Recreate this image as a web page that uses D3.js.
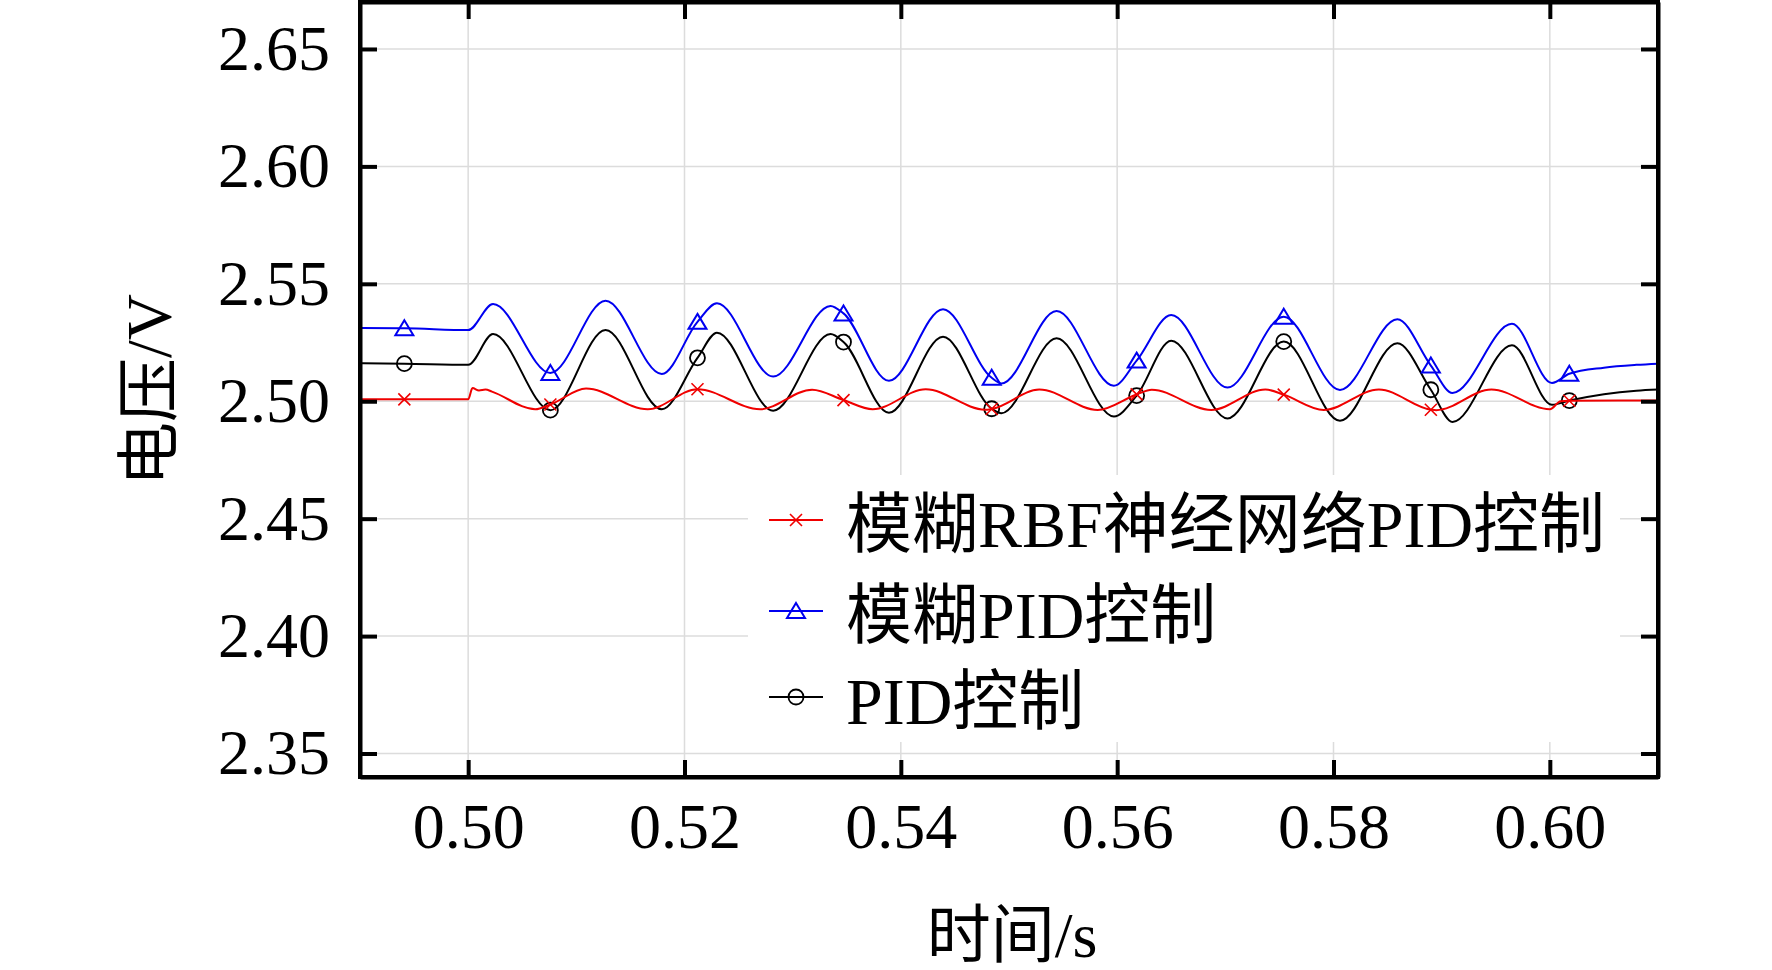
<!DOCTYPE html>
<html><head><meta charset="utf-8">
<script src="https://cdn.jsdelivr.net/npm/d3@7"></script>
<style>body{margin:0;background:#fff;} svg{display:block;}</style>
</head><body>
<svg id="chart" width="1772" height="970"></svg>
<script>
// ---- data ----
const xTicks = [0.50, 0.52, 0.54, 0.56, 0.58, 0.60];
const yTicks = [2.35, 2.40, 2.45, 2.50, 2.55, 2.60, 2.65];
const seriesNames = ["模糊RBF神经网络PID控制", "模糊PID控制", "PID控制"];

const timeRBF  = [0.4900, 0.5000, 0.5004, 0.5010, 0.5016, 0.5022, 0.5062, 0.5109, 0.5166, 0.5270, 0.5318, 0.5374, 0.5423, 0.5478, 0.5528, 0.5582, 0.5632, 0.5687, 0.5737, 0.5791, 0.5842, 0.5895, 0.5946, 0.6000, 0.6010, 0.6100];
const valueRBF = [2.5008, 2.5008, 2.5056, 2.5046, 2.5050, 2.5041, 2.4966, 2.5054, 2.4966, 2.4966, 2.5049, 2.4966, 2.5051, 2.4964, 2.5050, 2.4963, 2.5049, 2.4963, 2.5050, 2.4963, 2.5050, 2.4962, 2.5050, 2.4966, 2.5000, 2.5003];

const timeFuzzy  = [0.4900, 0.5000, 0.5023, 0.5127, 0.5179, 0.5230, 0.5282, 0.5335, 0.5389, 0.5439, 0.5493, 0.5544, 0.5597, 0.5650, 0.5702, 0.5806, 0.5859, 0.5910, 0.5965, 0.6002, 0.6050, 0.6080, 0.6100];
const valueFuzzy = [2.5312, 2.5303, 2.5414, 2.5428, 2.5116, 2.5417, 2.5105, 2.5406, 2.5087, 2.5392, 2.5076, 2.5384, 2.5066, 2.5367, 2.5058, 2.5048, 2.5349, 2.5035, 2.5330, 2.5078, 2.5143, 2.5155, 2.5160];

const timePID  = [0.4900, 0.5000, 0.5023, 0.5127, 0.5179, 0.5230, 0.5282, 0.5335, 0.5389, 0.5439, 0.5493, 0.5544, 0.5597, 0.5650, 0.5702, 0.5806, 0.5859, 0.5910, 0.5965, 0.6002, 0.6050, 0.6080, 0.6100];
const valuePID = [2.5162, 2.5155, 2.5286, 2.5303, 2.4966, 2.5292, 2.4960, 2.5286, 2.4951, 2.5275, 2.4949, 2.5268, 2.4935, 2.5258, 2.4927, 2.4917, 2.5247, 2.4912, 2.5238, 2.4985, 2.5030, 2.5045, 2.5050];

const markerTimes  = [0.4941, 0.5076, 0.5212, 0.5347, 0.5484, 0.5618, 0.5754, 0.5890, 0.6018];
const markerRBF    = [2.5008, 2.4986, 2.5051, 2.5005, 2.4967, 2.5029, 2.5028, 2.4964, 2.5002];
const markerFuzzy  = [2.5311, 2.5120, 2.5338, 2.5374, 2.5100, 2.5173, 2.5360, 2.5152, 2.5117];
const markerPID    = [2.5160, 2.4962, 2.5185, 2.5252, 2.4968, 2.5024, 2.5254, 2.5049, 2.5003];

// ---- layout ----
const FONT = "'Liberation Serif','Times New Roman','Noto Sans CJK SC',serif";
const m = {left: 360, right: 1658, top: 2, bottom: 777};
const x = d3.scaleLinear().domain([0.49, 0.61]).range([m.left, m.right]);
const y = d3.scaleLinear().domain([2.34, 2.67]).range([m.bottom, m.top]);

const svg = d3.select("#chart");
svg.append("rect").attr("width", 1772).attr("height", 970).attr("fill", "#fff");

svg.append("defs").append("clipPath").attr("id", "clip")
  .append("rect").attr("x", m.left).attr("y", m.top).attr("width", m.right - m.left).attr("height", m.bottom - m.top);

// grid
const grid = svg.append("g").attr("stroke", "#dcdcdc").attr("stroke-width", 1.5);
grid.selectAll("line.gx").data(xTicks).join("line")
  .attr("x1", d => x(d)).attr("x2", d => x(d)).attr("y1", m.top).attr("y2", m.bottom);
grid.selectAll("line.gy").data(yTicks).join("line")
  .attr("x1", m.left).attr("x2", m.right).attr("y1", d => y(d)).attr("y2", d => y(d));

// series
function merge(ts, vs, mv) {
  const pts = ts.map((t, i) => ({t, v: vs[i]}));
  markerTimes.forEach((t, i) => pts.push({t, v: mv[i]}));
  pts.sort((a, b) => a.t - b.t);
  return pts;
}
const series = [
  {name: seriesNames[0], color: "#f00000", data: merge(timeRBF, valueRBF, markerRBF), marks: markerRBF, sym: "x"},
  {name: seriesNames[1], color: "#0000f0", data: merge(timeFuzzy, valueFuzzy, markerFuzzy), marks: markerFuzzy, sym: "tri"},
  {name: seriesNames[2], color: "#000000", data: merge(timePID, valuePID, markerPID), marks: markerPID, sym: "circ"}
];

const line = d3.line().x(d => x(d.t)).y(d => y(d.v)).curve(d3.curveMonotoneX);
const plot = svg.append("g").attr("clip-path", "url(#clip)");

function drawMarker(g, sym, color, cx, cy) {
  if (sym === "x") {
    g.append("path").attr("d", `M${cx-6},${cy-6}L${cx+6},${cy+6}M${cx-6},${cy+6}L${cx+6},${cy-6}`)
      .attr("stroke", color).attr("stroke-width", 1.6).attr("fill", "none");
  } else if (sym === "tri") {
    g.append("path").attr("d", `M${cx},${cy-8}L${cx+9},${cy+7}L${cx-9},${cy+7}Z`)
      .attr("stroke", color).attr("stroke-width", 2).attr("fill", "none");
  } else {
    g.append("circle").attr("cx", cx).attr("cy", cy).attr("r", 7.5)
      .attr("stroke", color).attr("stroke-width", 1.8).attr("fill", "none");
  }
}

// draw order: black, blue, red on top
[series[2], series[1], series[0]].forEach(s => {
  plot.append("path").datum(s.data).attr("d", line)
    .attr("fill", "none").attr("stroke", s.color).attr("stroke-width", 2);
  const mg = plot.append("g");
  markerTimes.forEach((t, i) => drawMarker(mg, s.sym, s.color, x(t), y(s.marks[i])));
});

// axes
function styleAxis(g) {
  g.select(".domain").attr("stroke-width", 4);
  g.selectAll(".tick line").attr("stroke-width", 4);
  g.selectAll(".tick text").attr("font-size", 64).attr("font-family", FONT).attr("fill", "#000");
}
const fmt = d3.format(".2f");
svg.append("g").attr("transform", `translate(0,${m.bottom})`)
  .call(d3.axisBottom(x).tickValues(xTicks).tickFormat(fmt).tickSizeInner(-17).tickSizeOuter(0).tickPadding(26))
  .call(styleAxis);
svg.append("g").attr("transform", `translate(0,${m.top})`)
  .call(d3.axisTop(x).tickValues(xTicks).tickFormat("").tickSizeInner(-17).tickSizeOuter(0))
  .call(styleAxis);
svg.append("g").attr("transform", `translate(${m.left},0)`)
  .call(d3.axisLeft(y).tickValues(yTicks).tickFormat(fmt).tickSizeInner(-17).tickSizeOuter(0).tickPadding(30))
  .call(styleAxis);
svg.append("g").attr("transform", `translate(${m.right},0)`)
  .call(d3.axisRight(y).tickValues(yTicks).tickFormat("").tickSizeInner(-17).tickSizeOuter(0))
  .call(styleAxis);

svg.append("rect").attr("x", m.left).attr("y", m.top).attr("width", m.right - m.left).attr("height", m.bottom - m.top)
  .attr("fill", "none").attr("stroke", "#000").attr("stroke-width", 4);

// legend
const lg = svg.append("g");
lg.append("rect").attr("x", 748).attr("y", 475).attr("width", 872).attr("height", 267).attr("fill", "#fff");
const rowsY = [520, 611, 697];
series.forEach((s, i) => {
  const ly = rowsY[i];
  lg.append("line").attr("x1", 769).attr("x2", 823).attr("y1", ly).attr("y2", ly)
    .attr("stroke", s.color).attr("stroke-width", 2);
  drawMarker(lg, s.sym, s.color, 796, ly);
  lg.append("text").attr("x", 846).attr("y", ly + 27).text(s.name)
    .attr("font-family", FONT).attr("font-size", 66).attr("fill", "#000");
});

// axis titles
svg.append("text").attr("x", 1012).attr("y", 957).attr("text-anchor", "middle")
  .attr("font-family", FONT).attr("font-size", 64).text("时间/s");
svg.append("text").attr("transform", "translate(171,390) rotate(-90)").attr("text-anchor", "middle")
  .attr("font-family", FONT).attr("font-size", 64).text("电压/V");
</script>
</body></html>
